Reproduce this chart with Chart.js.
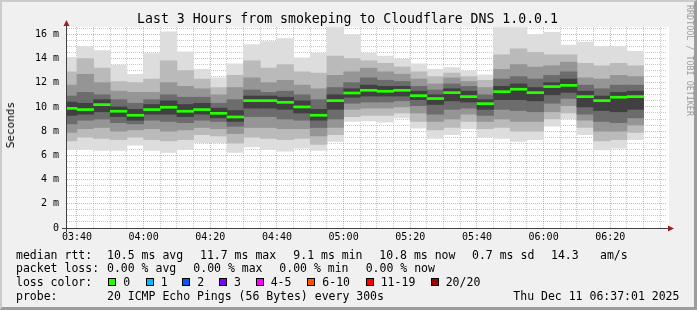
<!DOCTYPE html>
<html>
<head>
<meta charset="utf-8">
<script src="https://cdn.jsdelivr.net/npm/chart.js@4.4.1/dist/chart.umd.min.js"></script>
<style>
  body { margin: 0; }
  #frame { position: absolute; left: 0; top: 0; width: 697px; height: 310px; box-sizing: border-box;
           background: #f0f0f0; border-top: 2px solid #cbcbcb; border-left: 2px solid #cbcbcb;
           border-right: 3px solid #9c9c9c; border-bottom: 3px solid #9c9c9c; }
  canvas { position: absolute; left: 0; top: 0; }
  .t { position: absolute; font-family: 'DejaVu Sans Mono', monospace; white-space: pre; color: #000; }
  .lg { font-size: 11.5px; line-height: 14px; }
  .box { position: absolute; width: 8px; height: 8px; box-sizing: border-box; border: 1px solid #000; }
  #title { left: 0; width: 695px; text-align: center; top: 11px; font-size: 13.2px; line-height: 16px; }
  #ylab { left: 4px; top: 102px; font-size: 11px; writing-mode: vertical-rl; transform: rotate(180deg); }
  #credit { left: 685px; top: 5px; font-size: 8.4px; color: #9a9a9a; writing-mode: vertical-rl; }
</style>
</head>
<body>
<div id="frame"></div>
<canvas id="smoke" width="697" height="310"></canvas>
<div class="t" id="title">Last 3 Hours from smokeping to Cloudflare DNS 1.0.0.1</div>
<div class="t" id="ylab">Seconds</div>
<div class="t" id="credit">RRDTOOL / TOBI OETIKER</div>
<div id="legend"></div>

<script>
// 5 minute slots (start of each slot)
const slots = ['03:35','03:40','03:45','03:50','03:55','04:00','04:05','04:10','04:15','04:20',
               '04:25','04:30','04:35','04:40','04:45','04:50','04:55','05:00','05:05','05:10',
               '05:15','05:20','05:25','05:30','05:35','05:40','05:45','05:50','05:55','06:00',
               '06:05','06:10','06:15','06:20','06:25'];

// median rtt per slot (ms)
const medianRtt = [9.88,9.78,10.19,9.64,9.31,9.78,9.97,9.64,9.78,9.47,9.17,10.52,10.52,10.38,10.0,9.31,10.52,11.15,11.37,11.29,
                   11.37,10.93,10.69,11.18,10.85,10.27,11.26,11.46,11.18,11.68,11.78,10.85,10.52,10.8,10.85];

// smoke: sorted ping ranges, outer band to inner band (ms)
const pingMin = [6.5,6.5,6.4,6.4,6.85,6.4,6.25,6.5,7.05,7.05,6.25,6.7,6.5,6.35,6.6,6.4,7.15,8.8,8.85,8.75,
                 9.1,8.25,7.4,7.7,8.2,7.5,7.4,7.15,7.3,8.4,9.0,7.7,6.45,6.6,7.3];
const pingMax = [14.1,15.0,14.65,13.45,12.7,14.4,16.2,14.55,13.1,12.4,13.55,15.15,15.4,15.65,14.05,14.45,16.55,15.95,14.45,14.2,
                 13.95,13.55,13.1,13.25,12.95,12.65,16.55,16.55,16.0,16.15,15.1,15.35,15.0,15.0,14.6];
const band2Lo = [7.2,7.5,7.4,7.3,7.5,7.3,7.2,7.3,7.7,7.6,7.0,7.5,7.4,7.3,7.4,6.9,7.7,9.2,9.3,9.3,
                 9.5,8.8,8.1,8.3,8.8,8.2,8.3,8.0,8.0,9.0,9.5,8.3,7.2,7.3,7.9];
const band2Hi = [12.9,14.0,13.2,12.1,12.0,12.3,13.8,13.0,12.3,11.6,12.6,13.8,13.2,13.5,12.9,12.8,14.2,14.0,13.8,13.6,
                 13.3,12.9,12.5,12.8,12.5,12.2,14.3,14.8,14.5,14.3,14.3,13.6,13.4,13.6,13.4];
const band3Lo = [7.9,8.2,8.3,8.0,8.1,8.2,8.0,8.1,8.3,8.2,7.8,8.3,8.3,8.2,8.2,7.6,8.3,9.8,9.9,9.9,
                 10.0,9.5,8.8,9.0,9.4,8.8,9.0,8.8,8.8,9.6,10.1,8.9,8.0,8.0,8.5];
const band3Hi = [11.8,12.7,12.0,11.3,11.2,11.2,12.0,11.7,11.5,11.0,11.6,12.4,12.0,12.2,11.8,11.5,12.6,12.9,13.2,12.9,
                 12.7,12.3,11.9,12.4,12.1,11.6,13.1,13.5,13.3,13.4,13.7,12.4,12.3,12.6,12.5];
const band4Lo = [8.6,8.9,9.0,8.7,8.6,8.9,8.8,8.7,8.9,8.8,8.4,9.2,9.2,9.0,8.9,8.3,9.0,10.3,10.4,10.4,
                 10.5,10.1,9.4,9.8,9.9,9.3,9.8,9.7,9.6,10.3,10.7,9.4,8.8,8.7,9.1];
const band4Hi = [10.9,11.2,11.0,10.6,10.3,10.6,11.0,10.8,10.8,10.3,10.6,11.4,11.2,11.3,11.0,10.6,11.6,12.0,12.4,12.2,
                 12.1,11.7,11.4,11.9,11.7,11.0,12.3,12.5,12.3,12.6,12.9,11.8,11.5,11.8,11.8];
const band5Lo = [9.3,9.4,9.6,9.2,8.9,9.4,9.4,9.2,9.4,9.1,8.8,9.9,9.9,9.8,9.5,8.9,9.8,10.8,10.9,10.9,
                 10.9,10.6,10.2,10.5,10.4,9.8,10.6,10.6,10.5,11.0,11.2,10.0,9.7,9.6,9.8];
const band5Hi = [10.4,10.3,10.6,10.0,9.8,10.2,10.5,10.2,10.3,9.9,9.7,10.9,10.9,10.8,10.5,9.8,11.0,11.5,11.8,11.7,
                 11.7,11.3,11.0,11.5,11.3,10.6,11.7,11.9,11.6,12.0,12.3,11.3,10.9,11.2,11.3];

const smokeColors = ['#dddddd', '#bababa', '#959595', '#6c6c6c', '#404040'];
const bands = [[pingMin, pingMax], [band2Lo, band2Hi], [band3Lo, band3Hi], [band4Lo, band4Hi], [band5Lo, band5Hi]];

// legend texts
const statRows = [
  { y: 255, items: [[16, 'median rtt:'], [107, '10.5 ms avg'], [200, '11.7 ms max'], [293.3, '9.1 ms min'],
                    [379.3, '10.8 ms now'], [472, '0.7 ms sd'], [551, '14.3'], [600, 'am/s']] },
  { y: 268.3, items: [[16, 'packet loss:'], [107, '0.00 % avg'], [193.3, '0.00 % max'], [279.3, '0.00 % min'], [365.7, '0.00 % now']] },
  { y: 282.3, items: [[16, 'loss color:']] },
  { y: 296, items: [[16, 'probe:'], [107, '20 ICMP Echo Pings (56 Bytes) every 300s'], [513.3, 'Thu Dec 11 06:37:01 2025']] }
];
const lossLabels = ['0', '1', '2', '3', '4-5', '6-10', '11-19', '20/20'];
const lossColors = ['#26ff00', '#00b8ff', '#0059ff', '#7e00ff', '#ff00ff', '#ff5500', '#ff0000', '#a10000'];
const lossBoxX = [108, 146, 182, 219, 256, 307, 366, 431];
const lossTextX = [123.3, 160.7, 197.3, 234, 270.7, 322.3, 380.7, 445.7];

const legend = document.getElementById('legend');
function addText(x, cy, txt) {
  const d = document.createElement('div');
  d.className = 't lg';
  d.style.left = x + 'px';
  d.style.top = (cy - 7.3) + 'px';
  d.textContent = txt;
  legend.appendChild(d);
}
statRows.forEach(r => r.items.forEach(it => addText(it[0], r.y, it[1])));
lossLabels.forEach((lab, i) => {
  const b = document.createElement('div');
  b.className = 'box';
  b.style.left = lossBoxX[i] + 'px';
  b.style.top = '278px';
  b.style.background = lossColors[i];
  legend.appendChild(b);
  addText(lossTextX[i], 282.3, lab);
});

// time helpers (minutes since midnight)
function toMin(s) { const p = s.split(':'); return +p[0] * 60 + +p[1]; }
function fmtMin(v) { const h = Math.floor(v / 60), m = Math.round(v % 60); return String(h).padStart(2, '0') + ':' + String(m).padStart(2, '0'); }
const xStart = toMin('03:37') + 1 / 60;
const xEnd = toMin('06:37') + 1 / 60;
const centers = slots.map(s => toMin(s) + 2.5);

const datasets = [];
datasets.push({
  label: 'median',
  data: medianRtt.map((m, i) => ({ x: centers[i], y: [m - 0.085, m + 0.085] })),
  backgroundColor: lossColors[0],
  order: 0
});
bands.slice().reverse().forEach((b, j) => {
  const k = bands.length - 1 - j;
  datasets.push({
    label: 'smoke' + k,
    data: b[0].map((lo, i) => ({ x: centers[i], y: [lo, b[1][i]] })),
    backgroundColor: smokeColors[k],
    order: j + 1
  });
});
datasets.forEach(d => {
  d.barPercentage = 1;
  d.categoryPercentage = 1;
  d.grouped = false;
  d.borderWidth = 0;
  d.clip = 0;
});

const canvasBg = {
  id: 'canvasBg',
  beforeDraw(chart) {
    const a = chart.chartArea, c = chart.ctx;
    c.save();
    c.fillStyle = '#ffffff';
    c.fillRect(a.left, a.top, a.right - a.left + 2, a.bottom - a.top);
    c.restore();
  }
};

const axisArrows = {
  id: 'axisArrows',
  afterDraw(chart) {
    const a = chart.chartArea, c = chart.ctx;
    const x0 = a.left - 0.5, y0 = a.bottom + 0.5;
    c.save();
    c.strokeStyle = '#404040';
    c.lineWidth = 1;
    c.beginPath();
    c.moveTo(x0, a.bottom + 4); c.lineTo(x0, a.top - 5);
    c.moveTo(a.left - 5, y0); c.lineTo(a.right + 3, y0);
    c.stroke();
    c.fillStyle = '#9b2222';
    c.beginPath();
    c.moveTo(x0, a.top - 7); c.lineTo(x0 - 3, a.top - 1); c.lineTo(x0 + 3, a.top - 1); c.closePath(); c.fill();
    c.beginPath();
    c.moveTo(a.right + 7, y0); c.lineTo(a.right + 1, y0 - 3); c.lineTo(a.right + 1, y0 + 3); c.closePath(); c.fill();
    c.restore();
  }
};

Chart.defaults.font.family = "'DejaVu Sans Mono', monospace";
Chart.defaults.font.size = 10;
Chart.defaults.color = '#000';

new Chart(document.getElementById('smoke'), {
  type: 'bar',
  data: { datasets: datasets },
  options: {
    responsive: false,
    animation: false,
    layout: { padding: { top: 27, right: 30, left: 0, bottom: 0 } },
    plugins: { legend: { display: false }, tooltip: { enabled: false }, title: { display: false } },
    scales: {
      x: {
        type: 'linear',
        min: xStart,
        max: xEnd,
        offset: false,
        z: 1,
        afterFit(s) { s.height = 82; },
        afterBuildTicks(s) {
          const t = [];
          for (let v = toMin('03:40'); v <= toMin('06:35'); v += 5) t.push({ value: v });
          s.ticks = t;
        },
        grid: {
          offset: false,
          drawTicks: false,
          color: ctx => (ctx.tick && ctx.tick.value % 20 === 0) ? 'rgba(230,60,60,0.45)' : 'rgba(130,130,130,0.45)'
        },
        border: { display: false, dash: [1, 1] },
        ticks: {
          autoSkip: false,
          maxRotation: 0,
          padding: 3,
          callback: v => (v % 20 === 0 ? fmtMin(v) : '')
        }
      },
      y: {
        type: 'linear',
        min: 0,
        max: 16.6,
        z: 1,
        afterFit(s) { s.width = 67; },
        afterBuildTicks(s) {
          const t = [];
          for (let v = 0; v <= 16.5; v += 0.5) t.push({ value: v });
          s.ticks = t;
        },
        grid: {
          drawTicks: false,
          color: ctx => (ctx.tick && ctx.tick.value % 2 === 0) ? 'rgba(230,60,60,0.45)' : 'rgba(130,130,130,0.45)'
        },
        border: { display: false, dash: [1, 1] },
        ticks: {
          autoSkip: false,
          padding: 8,
          callback: v => (v % 2 !== 0 ? '' : (v === 0 ? '0' : v + ' m'))
        }
      }
    }
  },
  plugins: [canvasBg, axisArrows]
});
</script>
</body>
</html>
